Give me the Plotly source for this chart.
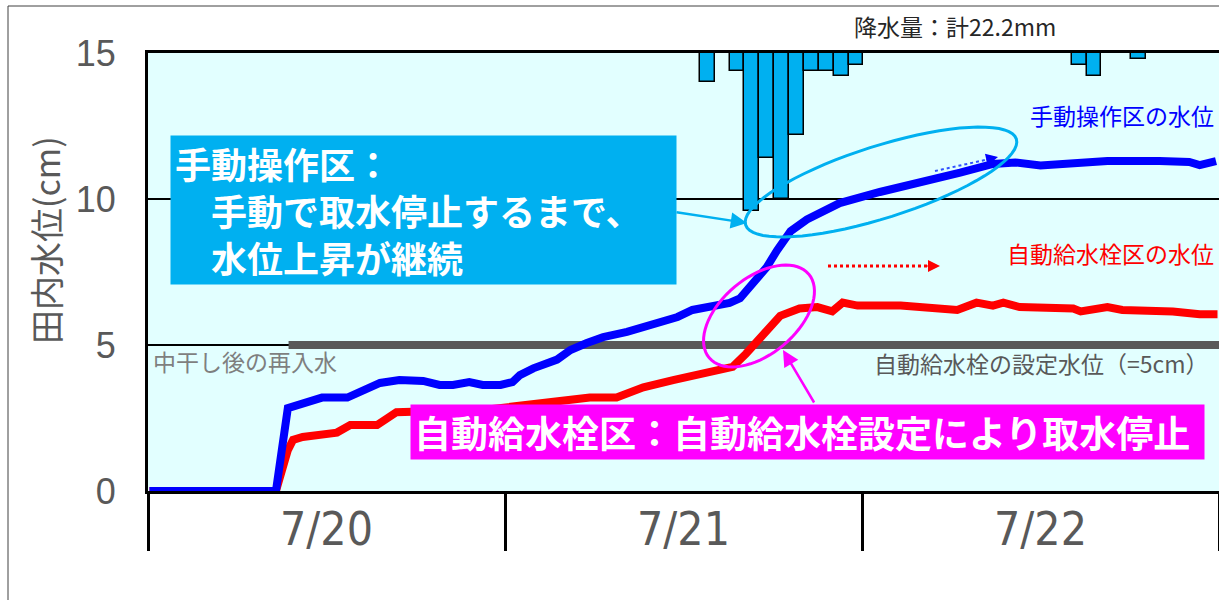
import math
import plotly.graph_objects as go

# ---------------- data ----------------
# time in hours from 7/20 00:00
blue_hours = [0.1, 8.6, 9.4, 10.4, 11.7, 13.4, 14.5, 15.6, 16.9, 18.5, 19.6, 20.5, 21.6, 22.5, 23.7,
              24.5, 25.0, 25.9, 27.5, 28.4, 29.5, 30.6, 32.2, 33.1, 34.2, 35.6, 36.6, 38.0, 39.1,
              39.8, 40.7, 41.6, 42.3, 43.2, 44.3, 46.5, 49.2, 51.9, 54.6, 56.8, 58.3, 60.0, 61.5,
              63.0, 64.5, 68.0, 70.0, 70.7, 71.8]
blue_level = [0, 0, 2.84, 3.0, 3.2, 3.2, 3.45, 3.7, 3.8, 3.77, 3.63, 3.63, 3.73, 3.63, 3.63,
              3.73, 3.97, 4.2, 4.5, 4.83, 5.07, 5.27, 5.45, 5.58, 5.75, 5.96, 6.2, 6.3, 6.44,
              6.6, 7.1, 7.67, 8.25, 8.9, 9.3, 9.86, 10.24, 10.55, 10.9, 11.2, 11.25, 11.15, 11.2,
              11.27, 11.3, 11.3, 11.27, 11.16, 11.3]

red_hours = [0.1, 8.6, 9.4, 9.75, 10.4, 12.0, 12.7, 13.6, 15.4, 16.7, 17.5, 20.0, 23.0, 26.0,
             28.5, 29.7, 31.5, 33.3, 35.3, 37.1, 39.3, 40.2, 41.3, 42.5, 43.8, 45.0, 46.0, 46.7,
             47.7, 50.6, 54.4, 55.7, 56.8, 57.5, 58.6, 62.2, 62.7, 64.5, 65.5, 68.9, 70.7, 71.9]
red_level = [0, 0, 1.4, 1.75, 1.85, 2.0, 2.0, 2.26, 2.26, 2.7, 2.7, 2.75, 2.8, 2.95,
             3.1, 3.2, 3.2, 3.55, 3.8, 4.0, 4.25, 4.7, 5.3, 6.0, 6.25, 6.3, 6.15, 6.45,
             6.35, 6.35, 6.2, 6.45, 6.35, 6.45, 6.3, 6.25, 6.15, 6.3, 6.2, 6.15, 6.05, 6.05]

rain_hours = [37.6, 39.6, 40.6, 41.6, 42.6, 43.6, 44.6, 45.6, 46.6, 47.6, 62.6, 63.6, 66.6]
rain_mm = [1.0, 0.6, 5.4, 3.6, 5.0, 2.8, 0.6, 0.6, 0.8, 0.4, 0.4, 0.8, 0.2]

setpoint_hours = [9.45, 72]
setpoint_level = [5, 5]

day_ticks = [12, 36, 60]
day_labels = ["7/20", "7/21", "7/22"]
day_bounds = [0, 24, 48, 72]
y_ticks = [0, 5, 10, 15]

# ---------------- layout helpers (pixel -> data / paper) ----------------
L, T, B = 148, 53, 491
W_PLOT, H_PLOT = 1219 - 148, 491 - 53
XPX = W_PLOT / 72.0
YPX = H_PLOT / 15.0


def dx(px):
    return (px - L) / XPX


def dy(py):
    return (B - py) / YPX


def px_paper(px):
    return (px - L) / W_PLOT


def py_paper(py):
    return (B - py) / H_PLOT


def ellipse_path(cx, cy, a, b, theta_deg, n=72):
    th = math.radians(theta_deg)
    pts = []
    for i in range(n):
        t = 2 * math.pi * i / n
        x = cx + a * math.cos(t) * math.cos(th) - b * math.sin(t) * math.sin(th)
        y = cy - (a * math.cos(t) * math.sin(th) + b * math.sin(t) * math.cos(th))
        pts.append(f"{dx(x):.4f},{dy(y):.4f}")
    return "M " + " L ".join(pts) + " Z"


JP = "Noto Sans CJK JP"
GRAY = "#595959"

fig = go.Figure()

fig.add_trace(go.Bar(x=rain_hours, y=rain_mm, width=1.0, yaxis="y2",
                     marker=dict(color="#00B0F0", line=dict(color="black", width=1.5)),
                     showlegend=False))
fig.add_trace(go.Scatter(x=setpoint_hours, y=setpoint_level, mode="lines",
                         line=dict(color=GRAY, width=8), showlegend=False))
fig.add_trace(go.Scatter(x=red_hours, y=red_level, mode="lines",
                         line=dict(color="#FF0000", width=8), showlegend=False))
fig.add_trace(go.Scatter(x=blue_hours, y=blue_level, mode="lines",
                         line=dict(color="#0000FF", width=8), showlegend=False))

shapes = [
    # outer frame
    dict(type="rect", xref="paper", yref="paper",
         x0=px_paper(8), x1=1.2, y0=-0.5, y1=py_paper(6),
         line=dict(color="#404040", width=1), layer="below"),
    # ellipses
    dict(type="path", xref="x", yref="y", path=ellipse_path(881, 182, 142, 36, 17.6),
         line=dict(color="#00B0F0", width=3)),
    dict(type="path", xref="x", yref="y", path=ellipse_path(759, 316, 65, 38, 40),
         line=dict(color="#FF00FF", width=3)),
    # red dotted arrow shaft
    dict(type="line", xref="x", yref="y", x0=dx(828), x1=dx(928), y0=dy(266), y1=dy(266),
         line=dict(color="#FF0000", width=3, dash="dot")),
    # blue dotted arrow shaft
    dict(type="line", xref="x", yref="y", x0=dx(935), x1=dx(985), y0=dy(171), y1=dy(160),
         line=dict(color="#3050FF", width=2, dash="dot")),
]

annotations = [
    dict(x=px_paper(955), y=py_paper(26), xref="paper", yref="paper", text="降水量：計22.2mm",
         xanchor="center", yanchor="middle",
         showarrow=False, font=dict(family=JP, size=23, color="#262626")),
    dict(x=px_paper(45), y=py_paper(240), xref="paper", yref="paper", text="田内水位(cm)",
         xanchor="center", yanchor="middle",
         textangle=-90, showarrow=False, font=dict(family=JP, size=34, color=GRAY)),
    dict(x=dx(1216), y=dy(115), xref="x", yref="y", text="手動操作区の水位", showarrow=False,
         xanchor="right", font=dict(family=JP, size=23, color="#0000FF")),
    dict(x=dx(1216), y=dy(253), xref="x", yref="y", text="自動給水栓区の水位", showarrow=False,
         xanchor="right", font=dict(family=JP, size=23, color="#FF0000")),
    dict(x=dx(151), y=dy(361), xref="x", yref="y", text="中干し後の再入水", showarrow=False,
         xanchor="left", font=dict(family=JP, size=23, color="#7F7F7F")),
    dict(x=dx(872), y=dy(363), xref="x", yref="y", text="自動給水栓の設定水位（=5cm）",
         showarrow=False, xanchor="left", font=dict(family=JP, size=23, color=GRAY)),
    # blue box
    dict(x=dx(170), y=dy(135), xref="x", yref="y", xanchor="left", yanchor="top",
         text="<b>手動操作区：</b><br><b>　手動で取水停止するまで、</b><br><b>　水位上昇が継続</b>",
         showarrow=False, align="left", bgcolor="#00B0F0", borderpad=4, width=497, height=140,
         font=dict(family=JP, size=36, color="white")),
    # magenta box
    dict(x=dx(410), y=dy(404), xref="x", yref="y", xanchor="left", yanchor="top",
         text="<b>自動給水栓区：自動給水栓設定により取水停止</b>",
         showarrow=False, align="left", bgcolor="#FF00FF", borderpad=3, width=787, height=48,
         font=dict(family=JP, size=37, color="white")),
    # arrows
    dict(x=dx(747), y=dy(223), xref="x", yref="y", ax=-72, ay=-11, text="", showarrow=True,
         arrowhead=2, arrowsize=1.3, arrowwidth=2.5, arrowcolor="#00B0F0"),
    dict(x=dx(783), y=dy(350), xref="x", yref="y", ax=32, ay=54, text="", showarrow=True,
         arrowhead=2, arrowsize=1.3, arrowwidth=2.5, arrowcolor="#FF00FF"),
    dict(x=dx(940), y=dy(266), xref="x", yref="y", ax=-14, ay=0, text="", showarrow=True,
         arrowhead=2, arrowsize=1.2, arrowwidth=2, arrowcolor="#FF0000"),
    dict(x=dx(998), y=dy(157), xref="x", yref="y", ax=-13, ay=3, text="", showarrow=True,
         arrowhead=2, arrowsize=1.2, arrowwidth=2, arrowcolor="#0000FF"),
]

fig.update_layout(
    width=1219, height=600,
    margin=dict(l=148, r=0, t=53, b=109),
    paper_bgcolor="white", plot_bgcolor="#E2FFFF",
    showlegend=False, bargap=0,
    shapes=shapes, annotations=annotations,
    xaxis=dict(range=[0, 72], tickvals=day_ticks, ticktext=day_labels, ticks="",
               tickfont=dict(family="Liberation Sans Narrow, Arial Narrow, DejaVu Sans Condensed, sans-serif",
                             size=46, color=GRAY),
               ticklabelstandoff=-4,
               showline=True, linecolor="black", linewidth=3, mirror=True,
               showgrid=False, zeroline=False,
               minor=dict(tickvals=day_bounds, ticks="outside", ticklen=57, tickwidth=3,
                          tickcolor="black", showgrid=False)),
    yaxis=dict(range=[0, 15], tickvals=y_ticks, ticks="",
               tickfont=dict(family="Liberation Sans, Arial, sans-serif", size=36, color=GRAY),
               ticklabelstandoff=22,
               showline=True, linecolor="black", linewidth=3,
               showgrid=True, gridcolor="black", gridwidth=1.5, zeroline=False),
    yaxis2=dict(range=[15, 0], overlaying="y", side="right", visible=False),
)

fig.write_html("out.html")
